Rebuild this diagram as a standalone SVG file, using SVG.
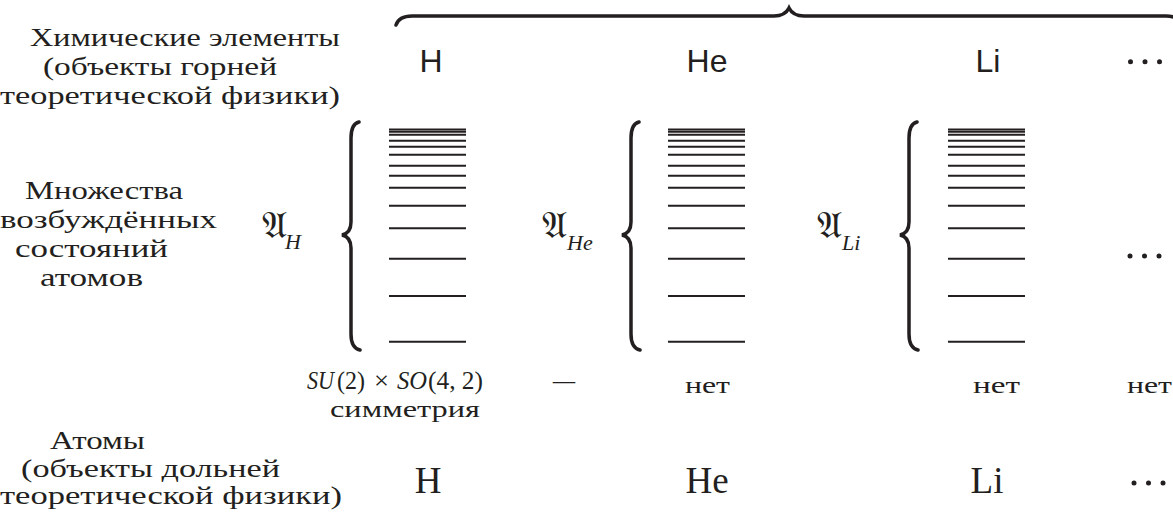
<svg xmlns="http://www.w3.org/2000/svg" xmlns:xlink="http://www.w3.org/1999/xlink" width="1173" height="519" viewBox="0 0 1173 519">
<style>
.t{font-family:"Liberation Serif","DejaVu Serif",serif;fill:#231f20;font-size:26px}
.n{font-family:"Liberation Serif","DejaVu Serif",serif;fill:#231f20;font-size:24px}
.s{font-family:"Liberation Sans","DejaVu Sans",sans-serif;fill:#231f20;font-size:32px}
.b{font-family:"Liberation Serif","DejaVu Serif",serif;fill:#231f20;font-size:37px}
.m{font-family:"Liberation Serif","DejaVu Serif",serif;fill:#231f20;font-size:26px}
.i{font-style:italic}
.fr{font-family:"DejaVu Sans","DejaVu Serif","Noto Sans",serif;fill:#231f20;font-size:38px}
.sub{font-family:"Liberation Serif",serif;font-style:italic;fill:#231f20;font-size:22px}
.lv{stroke:#231f20;stroke-width:2}
.br{fill:none;stroke:#231f20;stroke-width:3.5;stroke-linecap:round}
.dot{fill:#231f20}
</style>
<defs>
<path id="vbrace" class="br" d="M359 122 Q351 124 351 138 L351 222 Q351 233 342 235 Q351 237 351 248 L351 334 Q351 348 360 350"/>
<g id="levels">
<line class="lv" x1="389" x2="466" y1="129.5" y2="129.5"/>
<line class="lv" x1="389" x2="466" y1="131.7" y2="131.7"/>
<line class="lv" x1="389" x2="466" y1="134.7" y2="134.7"/>
<line class="lv" x1="389" x2="466" y1="140.7" y2="140.7"/>
<line class="lv" x1="389" x2="466" y1="146.7" y2="146.7"/>
<line class="lv" x1="389" x2="466" y1="154.7" y2="154.7"/>
<line class="lv" x1="389" x2="466" y1="165.7" y2="165.7"/>
<line class="lv" x1="389" x2="466" y1="175.7" y2="175.7"/>
<line class="lv" x1="389" x2="466" y1="187.7" y2="187.7"/>
<line class="lv" x1="389" x2="466" y1="205.7" y2="205.7"/>
<line class="lv" x1="389" x2="466" y1="228.3" y2="228.3" stroke-width="3"/>
<line class="lv" x1="389" x2="466" y1="258.7" y2="258.7"/>
<line class="lv" x1="389" x2="466" y1="296" y2="296" stroke-width="3"/>
<line class="lv" x1="389" x2="466" y1="341.7" y2="341.7"/>
</g>
<g id="cdots">
<circle class="dot" cx="0" cy="0" r="2.5"/>
<circle class="dot" cx="14.5" cy="0" r="2.5"/>
<circle class="dot" cx="29" cy="0" r="2.5"/>
</g>
</defs>
<rect width="1173" height="519" fill="#fff"/>

<g id="connectors">
<path class="br" stroke-width="4" d="M396 25 Q399 16 412 16 L774 16 Q785 16 789 8 Q793 16 804 16 L1166 16 Q1179 16 1182 25"/>
</g>

<g id="label-elements">
<text class="t" x="30" y="46" textLength="310" lengthAdjust="spacingAndGlyphs">Химические элементы</text>
<text class="t" x="43" y="75" textLength="234" lengthAdjust="spacingAndGlyphs">(объекты горней</text>
<text class="t" x="0" y="104" textLength="340" lengthAdjust="spacingAndGlyphs">теоретической физики)</text>
</g>

<g id="label-states">
<text class="t" x="25" y="199" textLength="158" lengthAdjust="spacingAndGlyphs">Множества</text>
<text class="t" x="0" y="228" textLength="217" lengthAdjust="spacingAndGlyphs">возбуждённых</text>
<text class="t" x="15" y="257" textLength="153" lengthAdjust="spacingAndGlyphs">состояний</text>
<text class="t" x="40" y="286" textLength="103" lengthAdjust="spacingAndGlyphs">атомов</text>
</g>

<g id="label-atoms">
<text class="t" x="50" y="449" textLength="95" lengthAdjust="spacingAndGlyphs">Атомы</text>
<text class="t" x="21" y="477" textLength="259" lengthAdjust="spacingAndGlyphs">(объекты дольней</text>
<text class="t" x="0" y="504" textLength="342" lengthAdjust="spacingAndGlyphs">теоретической физики)</text>
</g>

<g id="col-H">
<text class="s" x="431" y="72" text-anchor="middle">H</text>
<text class="fr" x="262" y="238">𝔄</text><text class="sub" x="285" y="249">H</text>
<use xlink:href="#vbrace"/>
<use xlink:href="#levels"/>
<text class="b" x="428" y="493" text-anchor="middle">H</text>
</g>

<g id="col-He">
<text class="s" x="707" y="72" text-anchor="middle">He</text>
<text class="fr" x="542" y="238">𝔄</text><text class="sub" x="567" y="250">He</text>
<use xlink:href="#vbrace" transform="translate(280 0)"/>
<use xlink:href="#levels" transform="translate(279 0)"/>
<text class="b" x="707" y="493" text-anchor="middle">He</text>
</g>

<g id="col-Li">
<text class="s" x="988" y="72" text-anchor="middle">Li</text>
<text class="fr" x="817" y="238">𝔄</text><text class="sub" x="842" y="250">Li</text>
<use xlink:href="#vbrace" transform="translate(558 0)"/>
<use xlink:href="#levels" transform="translate(559 0)"/>
<text class="b" x="987" y="493" text-anchor="middle">Li</text>
</g>

<g id="col-more">
<use xlink:href="#cdots" transform="translate(1130.5 61.7)"/>
<use xlink:href="#cdots" transform="translate(1130 256)"/>
<use xlink:href="#cdots" transform="translate(1134 483)"/>
</g>

<g id="row-symmetry">
<text class="m i" x="307" y="389" textLength="27" lengthAdjust="spacingAndGlyphs">SU</text>
<text class="m" x="337" y="389" textLength="28" lengthAdjust="spacingAndGlyphs">(2)</text>
<text class="m" x="374" y="389" textLength="15" lengthAdjust="spacingAndGlyphs">×</text>
<text class="m i" x="397" y="389" textLength="30" lengthAdjust="spacingAndGlyphs">SO</text>
<text class="m" x="428" y="389" textLength="55" lengthAdjust="spacingAndGlyphs">(4, 2)</text>
<text class="m" x="553" y="389" textLength="22" lengthAdjust="spacingAndGlyphs">–</text>
<text class="n" x="330" y="417" textLength="150" lengthAdjust="spacingAndGlyphs">симметрия</text>
<text class="n" x="685" y="393" textLength="45" lengthAdjust="spacingAndGlyphs">нет</text>
<text class="n" x="973" y="393" textLength="47" lengthAdjust="spacingAndGlyphs">нет</text>
<text class="n" x="1127" y="393" textLength="45" lengthAdjust="spacingAndGlyphs">нет</text>
</g>
</svg>
